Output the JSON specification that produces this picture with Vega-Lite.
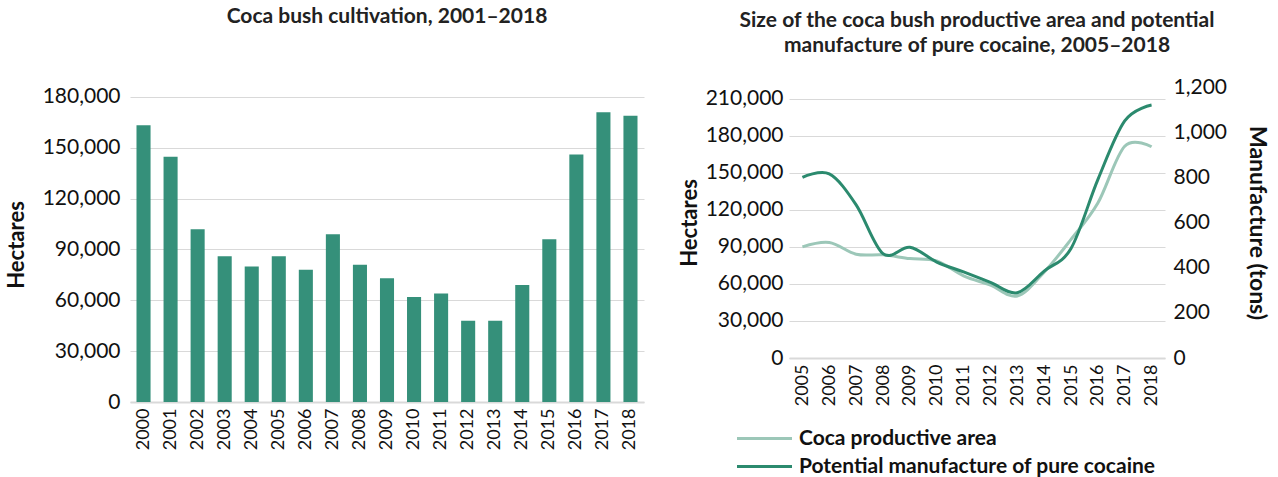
{
  "$schema": "https://vega.github.io/schema/vega-lite/v6.json",
  "background": "white",
  "padding": {"left": 5, "top": 5, "right": 5, "bottom": 0},
  "config": {
    "font": "Lato",
    "view": {"stroke": null},
    "axis": {"labelFont": "Lato", "titleFont": "Lato", "labelColor": "#111111", "titleColor": "#111111", "domainColor": "#d9d9d9", "gridColor": "#d9d9d9", "tickColor": "#d9d9d9"},
    "title": {"font": "Lato", "fontSize": 21, "fontWeight": "bold", "color": "#222222", "anchor": "middle"},
    "legend": {"labelFont": "Lato", "padding": 0}
  },
  "spacing": 34,
  "resolve": {"scale": {"color": "independent"}},
  "hconcat": [
    {
      "title": {"text": "Coca bush cultivation, 2001–2018", "offset": 59},
      "width": 514,
      "height": 315,
      "data": {"values": [
        {"year": "2000", "hectares": 163300},
        {"year": "2001", "hectares": 144800},
        {"year": "2002", "hectares": 102000},
        {"year": "2003", "hectares": 86000},
        {"year": "2004", "hectares": 80000},
        {"year": "2005", "hectares": 86000},
        {"year": "2006", "hectares": 78000},
        {"year": "2007", "hectares": 99000},
        {"year": "2008", "hectares": 81000},
        {"year": "2009", "hectares": 73000},
        {"year": "2010", "hectares": 62000},
        {"year": "2011", "hectares": 64000},
        {"year": "2012", "hectares": 48000},
        {"year": "2013", "hectares": 48000},
        {"year": "2014", "hectares": 69000},
        {"year": "2015", "hectares": 96000},
        {"year": "2016", "hectares": 146000},
        {"year": "2017", "hectares": 171000},
        {"year": "2018", "hectares": 169000}
      ]},
      "mark": {"type": "bar", "color": "#35907a"},
      "encoding": {
        "x": {"field": "year", "type": "ordinal", "scale": {"paddingInner": 0.48, "paddingOuter": 0.24},
          "axis": {"title": null, "labelAngle": -90, "labelFontSize": 18, "ticks": false, "domainColor": "#d9d9d9", "domainWidth": 2, "labelPadding": 6}},
        "y": {"field": "hectares", "type": "quantitative", "scale": {"domain": [0, 185900], "nice": false},
          "axis": {"title": "Hectares", "titleFontSize": 22, "titleFontWeight": "bold", "values": [0, 30000, 60000, 90000, 120000, 150000, 180000], "format": ",d", "labelFontSize": 21, "domain": false, "ticks": false, "grid": true, "labelPadding": 10, "titlePadding": 14}}
      }
    },
    {
      "title": {"text": ["Size of the coca bush productive area and potential", "manufacture of pure cocaine, 2005–2018"], "offset": 20, "lineHeight": 25},
      "width": 376,
      "height": 271,
      "data": {"values": [
        {"year": "2005", "area": 90000, "tons": 800},
        {"year": "2006", "area": 93500, "tons": 815},
        {"year": "2007", "area": 84000, "tons": 678},
        {"year": "2008", "area": 83500, "tons": 462},
        {"year": "2009", "area": 80500, "tons": 490},
        {"year": "2010", "area": 78500, "tons": 425},
        {"year": "2011", "area": 66500, "tons": 381},
        {"year": "2012", "area": 59000, "tons": 335},
        {"year": "2013", "area": 50200, "tons": 289},
        {"year": "2014", "area": 69500, "tons": 385},
        {"year": "2015", "area": 96000, "tons": 485},
        {"year": "2016", "area": 125500, "tons": 790},
        {"year": "2017", "area": 171500, "tons": 1050},
        {"year": "2018", "area": 171000, "tons": 1120}
      ]},
      "layer": [
        {
          "mark": {"type": "line", "interpolate": "cardinal", "strokeWidth": 3},
          "encoding": {
            "x": {"field": "year", "type": "ordinal", "scale": {"type": "point", "padding": 0.5},
              "axis": {"title": null, "labelAngle": -90, "labelFontSize": 18, "ticks": false, "domainColor": "#d9d9d9", "domainWidth": 2, "labelPadding": 6}},
            "y": {"field": "area", "type": "quantitative", "scale": {"domain": [0, 219400], "nice": false},
              "axis": {"title": "Hectares", "titleFontSize": 22, "titleFontWeight": "bold", "values": [0, 30000, 60000, 90000, 120000, 150000, 180000, 210000], "format": ",d", "labelFontSize": 21, "domain": false, "ticks": false, "grid": true, "labelPadding": 6, "titlePadding": 4}},
            "color": {"datum": "Coca productive area", "type": "nominal",
              "scale": {"domain": ["Coca productive area", "Potential manufacture of pure cocaine"], "range": ["#9cc7b8", "#2b8a6e"]},
              "legend": {"title": null, "orient": "none", "legendX": -37, "legendY": 339, "direction": "vertical", "symbolType": "M-2.5,0H2.5", "symbolSize": 484, "symbolStrokeWidth": 3, "labelFontSize": 21, "labelFontWeight": "bold", "labelColor": "#111111", "labelOffset": 22, "rowPadding": 5, "labelLimit": 600}}
          }
        },
        {
          "mark": {"type": "line", "interpolate": "cardinal", "strokeWidth": 3},
          "encoding": {
            "x": {"field": "year", "type": "ordinal", "scale": {"type": "point", "padding": 0.5}},
            "y": {"field": "tons", "type": "quantitative", "scale": {"domain": [0, 1200], "nice": false},
              "axis": {"orient": "right", "title": "Manufacture (tons)", "titleFontSize": 23, "titleFontWeight": "bold", "values": [0, 200, 400, 600, 800, 1000, 1200], "format": ",d", "labelFontSize": 21, "domain": false, "ticks": false, "grid": false, "labelPadding": 8, "titlePadding": 18}},
            "color": {"datum": "Potential manufacture of pure cocaine", "type": "nominal"}
          }
        }
      ],
      "resolve": {"scale": {"y": "independent"}}
    }
  ]
}
